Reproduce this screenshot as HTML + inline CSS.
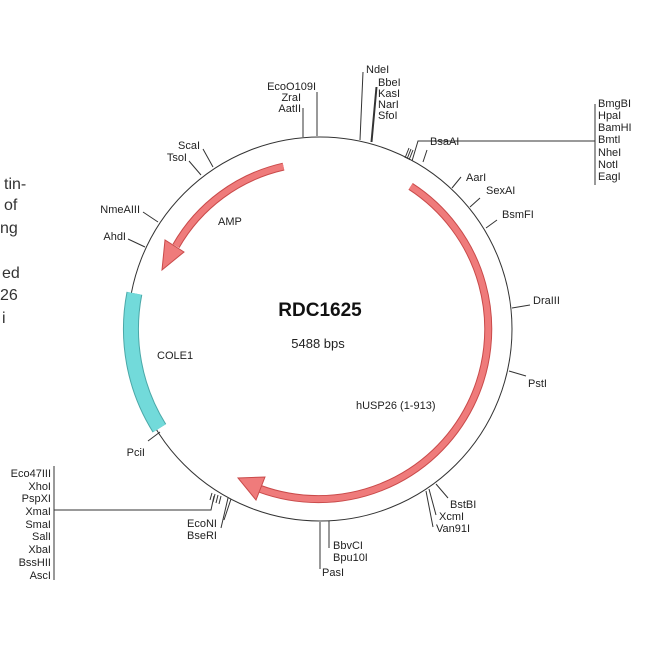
<!DOCTYPE html>
<html><head><meta charset="utf-8"><style>
html,body{margin:0;padding:0;background:#fff}
svg{display:block}
text{font-family:"Liberation Sans",Arial,sans-serif;font-size:11px;fill:#222}
.l{stroke:#333;stroke-width:1;fill:none}
.s{font-size:16px;fill:#333}
</style></head><body>
<svg width="650" height="650" viewBox="0 0 650 650" xmlns="http://www.w3.org/2000/svg">
<!-- cut-off left text -->
<text class="s" x="4" y="189">tin-</text>
<text class="s" x="4" y="210">of</text>
<text class="s" x="0" y="233">ng</text>
<text class="s" x="2" y="278">ed</text>
<text class="s" x="0" y="300">26</text>
<text class="s" x="2" y="323">i</text>

<circle cx="320" cy="329" r="192" class="l"/>

<!-- COLE1 -->
<path d="M159.4,428.2 A187,187 0 0 1 134.4,293.3" stroke="#4aa8a8" stroke-width="16" fill="none"/>
<path d="M159.4,428.2 A187,187 0 0 1 134.4,293.3" stroke="#72dada" stroke-width="14" fill="none"/>

<!-- hUSP26 arrow -->
<path d="M410.6,186.4 A170,170 0 0 1 259.9,488.8" stroke="#c94a4a" stroke-width="8" fill="none"/>
<path d="M410.6,186.4 A170,170 0 0 1 259.9,488.8" stroke="#ef7b7b" stroke-width="6" fill="none"/>
<polygon points="265,477 256,500 238,478" fill="#ef7b7b" stroke="#c94a4a" stroke-width="1"/>

<!-- AMP arrow -->
<path d="M283.5,166.6 A166,166 0 0 0 176,246" stroke="#c94a4a" stroke-width="8" fill="none"/>
<path d="M283.5,166.6 A166,166 0 0 0 176,246" stroke="#ef7b7b" stroke-width="6" fill="none"/>
<polygon points="184,252 165,240 162,270" fill="#ef7b7b" stroke="#c94a4a" stroke-width="1"/>

<!-- center labels -->
<text x="320" y="316" text-anchor="middle" style="font-size:19px;font-weight:bold;fill:#111">RDC1625</text>
<text x="318" y="348" text-anchor="middle" style="font-size:13px">5488 bps</text>
<text x="157" y="359" style="font-size:11px">COLE1</text>
<text x="218" y="225">AMP</text>
<text x="356" y="409">hUSP26 (1-913)</text>

<!-- top ticks -->
<path class="l" d="M317,136V92 M303,137V108 M360,140L363,72 M371,142L376,87 M372,142L377,87"/>
<text x="316" y="90" text-anchor="end">EcoO109I</text>
<text x="301" y="101" text-anchor="end">ZraI</text>
<text x="301" y="112" text-anchor="end">AatII</text>
<text x="366" y="73">NdeI</text>
<text x="378" y="86">BbeI</text>
<text x="378" y="97">KasI</text>
<text x="378" y="108">NarI</text>
<text x="378" y="119">SfoI</text>

<!-- BsaAI group -->
<path class="l" d="M405,158L409,148 M407,159L411,149 M409,160L413,150 M412,161L418,141H595 M423,162L427,150 M595,104V185"/>
<text x="430" y="145">BsaAI</text>
<text x="598" y="107">BmgBI</text>
<text x="598" y="119">HpaI</text>
<text x="598" y="131">BamHI</text>
<text x="598" y="143">BmtI</text>
<text x="598" y="156">NheI</text>
<text x="598" y="168">NotI</text>
<text x="598" y="180">EagI</text>

<!-- right ticks -->
<path class="l" d="M452,188L461,177 M470,207L480,198 M486,228L497,220 M512,308L530,305 M509,371L526,376 M436,484L448,498 M429,489L436,515 M426,491L433,527"/>
<text x="466" y="181">AarI</text>
<text x="486" y="194">SexAI</text>
<text x="502" y="218">BsmFI</text>
<text x="533" y="304">DraIII</text>
<text x="528" y="387">PstI</text>
<text x="450" y="508">BstBI</text>
<text x="439" y="520">XcmI</text>
<text x="436" y="532">Van91I</text>

<!-- bottom ticks -->
<path class="l" d="M329,521V548 M320,522V569"/>
<text x="333" y="549">BbvCI</text>
<text x="333" y="561">Bpu10I</text>
<text x="322" y="576">PasI</text>

<path class="l" d="M228,498L221,528 M231,499L224,520"/>
<text x="217" y="527" text-anchor="end">EcoNI</text>
<text x="217" y="539" text-anchor="end">BseRI</text>

<path class="l" d="M212,493L210,500 M215,494L213,502 M218,495L216,503 M221,496L219,504 M214,496L211,510H54 M54,466V580"/>
<text x="51" y="477" text-anchor="end">Eco47III</text>
<text x="51" y="490" text-anchor="end">XhoI</text>
<text x="51" y="502" text-anchor="end">PspXI</text>
<text x="51" y="515" text-anchor="end">XmaI</text>
<text x="51" y="528" text-anchor="end">SmaI</text>
<text x="51" y="540" text-anchor="end">SalI</text>
<text x="51" y="553" text-anchor="end">XbaI</text>
<text x="51" y="566" text-anchor="end">BssHII</text>
<text x="51" y="579" text-anchor="end">AscI</text>

<!-- left ticks -->
<path class="l" d="M160,432L148,441 M145,247L128,239 M158,222L143,212 M201,175L189,161 M213,167L203,149"/>
<text x="145" y="456" text-anchor="end">PciI</text>
<text x="126" y="240" text-anchor="end">AhdI</text>
<text x="140" y="213" text-anchor="end">NmeAIII</text>
<text x="187" y="161" text-anchor="end">TsoI</text>
<text x="200" y="149" text-anchor="end">ScaI</text>
</svg>
</body></html>
